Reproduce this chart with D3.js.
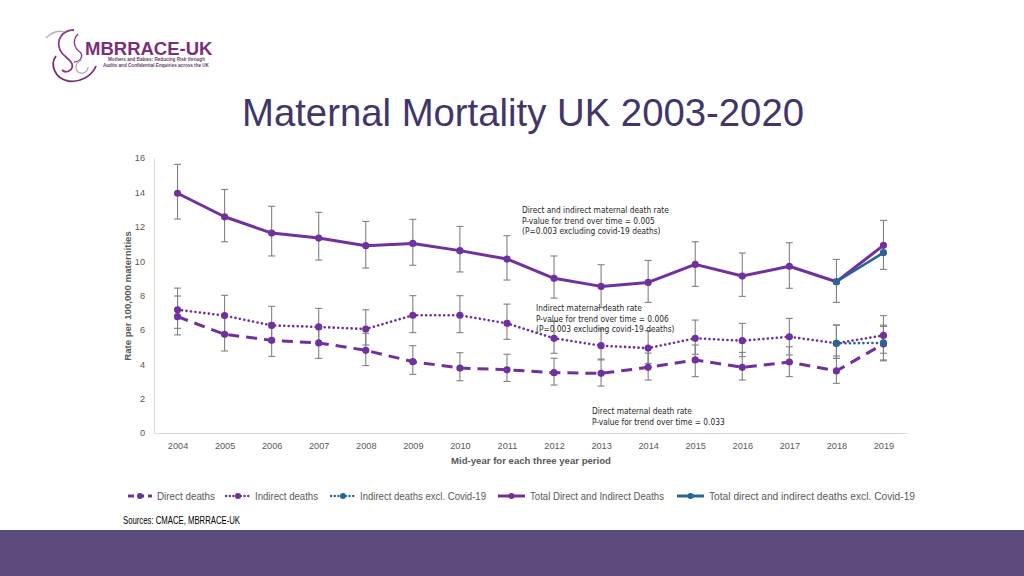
<!DOCTYPE html>
<html><head><meta charset="utf-8">
<script src="https://cdn.jsdelivr.net/npm/d3@7"></script>
<style>
html,body{margin:0;padding:0;background:#fff;}
svg{display:block;}
</style></head>
<body>
<svg id="chart" width="1024" height="576"></svg>
<script>
// ---- data ----
const years = [2004,2005,2006,2007,2008,2009,2010,2011,2012,2013,2014,2015,2016,2017,2018,2019];
const total   = [13.95,12.58,11.63,11.34,10.90,11.03,10.61,10.12,9.00,8.53,8.76,9.81,9.13,9.70,8.80,10.92];
const totalLo = [12.45,11.13,10.30,10.06,9.60,9.76,9.37,8.90,7.85,7.30,7.60,8.53,7.95,8.42,7.60,9.52];
const totalHi = [15.63,14.17,13.19,12.84,12.31,12.43,12.02,11.48,10.30,9.79,10.04,11.13,10.47,11.07,10.10,12.37];
const indirect   = [7.17,6.83,6.26,6.17,6.05,6.85,6.85,6.38,5.51,5.08,4.94,5.51,5.37,5.60,5.22,5.68];
const indirectLo = [6.09,5.80,5.30,5.20,5.12,5.84,5.84,5.45,4.64,4.25,4.05,4.58,4.44,4.54,4.34,4.64];
const indirectHi = [8.43,8.01,7.37,7.25,7.17,7.99,7.99,7.50,6.50,6.05,5.95,6.57,6.38,6.67,6.28,6.83];
const direct   = [6.77,5.74,5.39,5.24,4.81,4.15,3.78,3.68,3.51,3.47,3.82,4.25,3.82,4.13,3.61,5.18];
const directLo = [5.71,4.77,4.46,4.34,3.92,3.41,3.04,3.00,2.79,2.73,3.08,3.28,3.08,3.28,2.89,4.20];
const directHi = [7.97,6.80,6.40,6.20,5.80,5.08,4.67,4.58,4.35,4.30,4.65,5.12,4.69,5.02,4.48,6.20];
const exclYears = [2018,2019];
const totalExcl = [8.80,10.49];
const indirectExcl = [5.22,5.24];
const indirectExclLo = [4.34,4.25];
const indirectExclHi = [6.28,6.28];
const yTicks = [0,2,4,6,8,10,12,14,16];
const legendLabels = ["Direct deaths","Indirect deaths","Indirect deaths excl. Covid-19","Total Direct and Indirect Deaths","Total direct and indirect deaths excl. Covid-19"];
const notes = [
  ["Direct and indirect maternal death rate","P-value for trend over time = 0.005","(P=0.003 excluding covid-19 deaths)"],
  ["Indirect maternal death rate","P-value for trend over time = 0.006","(P=0.003 excluding covid-19 deaths)"],
  ["Direct maternal death rate","P-value for trend over time = 0.033"]
];

const PURPLE = "#7030a0", BLUE = "#2a6496", GREY = "#808080", TXT = "#595959";
const FONT = "Liberation Sans, Arial, sans-serif";
const svg = d3.select("#chart");

// ---- background decorations ----
svg.append("rect").attr("x",0).attr("y",530).attr("width",1024).attr("height",46).attr("fill","#5c4a7c");

// logo
const logo = svg.append("g");
logo.append("path").attr("d","M74,30 C62,30 56,40 60,50 C63,57 70,58 72,64 C74,70 66,74 62,70")
  .attr("fill","none").attr("stroke","#8a3b8a").attr("stroke-width",1.8);
logo.append("path").attr("d","M78,34 C72,40 74,48 80,52 C84,56 80,62 74,62")
  .attr("fill","none").attr("stroke","#8a3b8a").attr("stroke-width",1.4);
logo.append("path").attr("d","M56,56 C50,64 54,78 68,81 C80,83 92,76 96,66")
  .attr("fill","none").attr("stroke","#7a2f7a").attr("stroke-width",1.8);
logo.append("path").attr("d","M82,60 C76,62 74,68 78,72 C82,75 88,72 88,67")
  .attr("fill","none").attr("stroke","#b9a9c6").attr("stroke-width",1.3);
logo.append("path").attr("d","M46,38 C52,32 58,30 64,32")
  .attr("fill","none").attr("stroke","#b9a9c6").attr("stroke-width",1.3);
logo.append("text").attr("x",85).attr("y",55).attr("font-family",FONT)
  .attr("font-weight","bold").attr("font-size",18.5).attr("fill","#7a2f7a").text("MBRRACE-UK");
logo.append("text").attr("x",108).attr("y",61).attr("font-family",FONT)
  .attr("font-weight","bold").attr("font-size",4.6).attr("fill","#6b3a6b").text("Mothers and Babies: Reducing Risk through");
logo.append("text").attr("x",103).attr("y",66.5).attr("font-family",FONT)
  .attr("font-weight","bold").attr("font-size",4.6).attr("fill","#6b3a6b").text("Audits and Confidential Enquiries across the UK");

// title
svg.append("text").attr("x",523).attr("y",126).attr("text-anchor","middle")
  .attr("font-family",FONT).attr("font-size",38.3)
  .attr("fill","#41356a").text("Maternal Mortality UK 2003-2020");

// ---- scales ----
const x = d3.scalePoint().domain(years).range([154,907]).padding(0.5);
const y = d3.scaleLinear().domain([0,16]).range([433,158]);

// axes
const gy = svg.append("g").attr("transform","translate(154,0)")
  .call(d3.axisLeft(y).tickValues(yTicks).tickSize(0).tickPadding(9));
gy.select(".domain").attr("stroke","#d9d9d9");
const gx = svg.append("g").attr("transform","translate(0,433)")
  .call(d3.axisBottom(x).tickSize(0).tickPadding(9));
gx.select(".domain").attr("stroke","#d9d9d9");
[gx,gy].forEach(g=>g.selectAll("text").attr("font-family",FONT)
  .attr("font-size",9.2).attr("fill",TXT));

svg.append("text").attr("transform","translate(131,296) rotate(-90)").attr("text-anchor","middle")
  .attr("font-family",FONT).attr("font-weight","bold").attr("font-size",9.6)
  .attr("fill",TXT).text("Rate per 100,000 maternities");
svg.append("text").attr("x",531).attr("y",464).attr("text-anchor","middle")
  .attr("font-family",FONT).attr("font-weight","bold").attr("font-size",9.6)
  .attr("fill",TXT).text("Mid-year for each three year period");

// ---- error bars ----
function errBars(ys, lo, hi){
  const g = svg.append("g").attr("stroke",GREY).attr("stroke-width",1.1).attr("fill","none");
  ys.forEach((yr,i)=>{
    const cx = x(yr);
    g.append("line").attr("x1",cx).attr("x2",cx).attr("y1",y(lo[i])).attr("y2",y(hi[i]));
    g.append("line").attr("x1",cx-3.5).attr("x2",cx+3.5).attr("y1",y(lo[i])).attr("y2",y(lo[i]));
    g.append("line").attr("x1",cx-3.5).attr("x2",cx+3.5).attr("y1",y(hi[i])).attr("y2",y(hi[i]));
  });
}
errBars(years,totalLo,totalHi);
errBars(years,indirectLo,indirectHi);
errBars(years,directLo,directHi);
errBars(exclYears,indirectExclLo,indirectExclHi);

// ---- lines ----
const line = d3.line().x(d=>x(d[0])).y(d=>y(d[1]));
function series(ys, vals, color, width, dash, cap, r){
  const pts = ys.map((yr,i)=>[yr,vals[i]]);
  svg.append("path").datum(pts).attr("d",line).attr("fill","none").attr("stroke",color)
    .attr("stroke-width",width).attr("stroke-dasharray",dash).attr("stroke-linecap",cap).attr("stroke-linejoin","round");
  svg.append("g").selectAll("circle").data(pts).join("circle")
    .attr("cx",d=>x(d[0])).attr("cy",d=>y(d[1])).attr("r",r).attr("fill",color);
}
series(years,direct,PURPLE,3,"11,7","butt",3.6);
series(years,indirect,PURPLE,2.6,"0.1,4.4","round",3.6);
series(exclYears,indirectExcl,BLUE,2.6,"0.1,4.4","round",3.6);
series(years,total,PURPLE,3,null,"round",3.6);
series(exclYears,totalExcl,BLUE,2.6,null,"round",3.6);

// ---- annotations ----
const notePos = [[522,213],[536,311],[592,414]];
notes.forEach((lines,k)=>{
  lines.forEach((t,j)=>{
    svg.append("text").attr("x",notePos[k][0]).attr("y",notePos[k][1]+j*10.6)
      .attr("font-family","DejaVu Sans Condensed, DejaVu Sans, sans-serif").attr("font-size",8.3)
      .attr("fill","#262626").text(t);
  });
});

// ---- legend ----
const legStyles = [
  {c:PURPLE,d:"6,4",w:3,cap:"butt"},
  {c:PURPLE,d:"0.1,3.6",w:2.4,cap:"round"},
  {c:BLUE,d:"0.1,3.6",w:2.4,cap:"round"},
  {c:PURPLE,d:null,w:3,cap:"butt"},
  {c:BLUE,d:null,w:3,cap:"butt"}
];
const legX = [128,226,331,498,677];
const legW = [58,63,126,134,206];
const lg = svg.append("g");
legendLabels.forEach((t,i)=>{
  const x0 = legX[i], w = (i>=3)?27:24;
  lg.append("line").attr("x1",x0).attr("x2",x0+w).attr("y1",496).attr("y2",496)
    .attr("stroke",legStyles[i].c).attr("stroke-width",legStyles[i].w)
    .attr("stroke-dasharray",legStyles[i].d).attr("stroke-linecap",legStyles[i].cap);
  lg.append("circle").attr("cx",x0+w/2).attr("cy",496).attr("r",3).attr("fill",legStyles[i].c);
  lg.append("text").attr("x",x0+w+5).attr("y",499.5)
    .attr("font-family",FONT).attr("font-size",10.8)
    .attr("textLength",legW[i]).attr("lengthAdjust","spacingAndGlyphs")
    .attr("fill",TXT).text(t);
});

svg.append("text").attr("x",123).attr("y",523.5).attr("font-family",FONT)
  .attr("font-size",10.6).attr("textLength",117).attr("lengthAdjust","spacingAndGlyphs")
  .attr("fill","#000").text("Sources: CMACE, MBRRACE-UK");
</script>
</body></html>
